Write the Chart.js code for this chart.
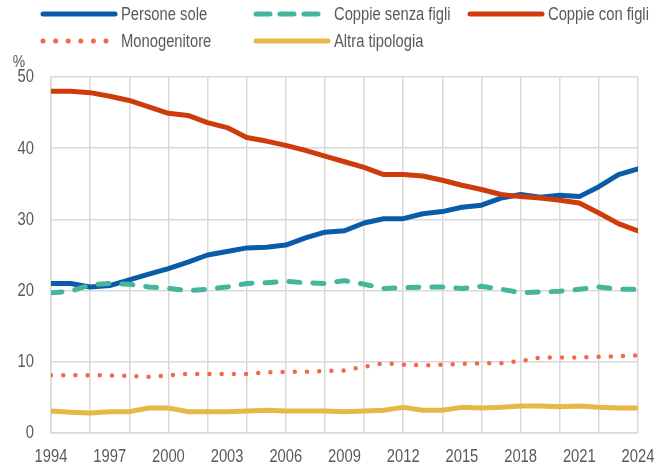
<!DOCTYPE html>
<html>
<head>
<meta charset="utf-8">
<script src="https://cdn.jsdelivr.net/npm/chart.js@4/dist/chart.umd.min.js"></script>
<style>
html,body{margin:0;padding:0;background:#fff;}
#wrap{width:669px;height:468px;}
</style>
</head>
<body>
<div id="wrap"><canvas id="c" width="669" height="468"></canvas></div>
<script>
const years = [1994,1995,1996,1997,1998,1999,2000,2001,2002,2003,2004,2005,2006,2007,2008,2009,2010,2011,2012,2013,2014,2015,2016,2017,2018,2019,2020,2021,2022,2023,2024];
const personeSole = [21.0,21.0,20.5,20.7,21.5,22.3,23.1,24.0,25.0,25.5,26.0,26.1,26.4,27.4,28.2,28.4,29.5,30.1,30.1,30.8,31.1,31.7,32.0,33.0,33.5,33.1,33.4,33.2,34.6,36.3,37.1];
const coppieSenzaFigli = [19.7,19.9,20.8,21.0,20.9,20.5,20.3,20.0,20.2,20.5,21.0,21.1,21.3,21.1,21.0,21.4,20.9,20.3,20.4,20.5,20.5,20.3,20.6,20.2,19.7,19.8,19.9,20.2,20.5,20.2,20.2];
const coppieConFigli = [48.0,48.0,47.8,47.3,46.7,45.8,44.9,44.6,43.6,42.9,41.5,41.0,40.4,39.7,38.9,38.1,37.3,36.3,36.3,36.1,35.5,34.8,34.2,33.5,33.2,33.0,32.7,32.3,30.9,29.4,28.4];
const monogenitore = [8.1,8.1,8.1,8.1,8.0,7.9,8.1,8.3,8.3,8.3,8.3,8.5,8.6,8.6,8.7,8.8,9.3,9.8,9.6,9.5,9.6,9.7,9.8,9.8,10.1,10.6,10.6,10.6,10.7,10.8,10.9];
const altraTipologia = [3.1,2.9,2.8,3.0,3.0,3.5,3.5,3.0,3.0,3.0,3.1,3.2,3.1,3.1,3.1,3.0,3.1,3.2,3.6,3.2,3.2,3.6,3.5,3.6,3.8,3.8,3.7,3.8,3.6,3.5,3.5];
const yTicks = [0,10,20,30,40,50];
const xLabelEvery = 3;
const xGridEvery = 2;
const unitLabel = '%';

const FONT = "'Liberation Sans', Arial, sans-serif";
const NARROW = 0.82;
const TXT = '#595959';
const GRID = '#d9d9d9';

const C_BLUE = '#0b5ca8';
const C_TEAL = '#45b59c';
const C_RED = '#cf3c0c';
const C_DOT = '#f0694a';
const C_YEL = '#e6b945';

const datasets = [
  {label:'Coppie con figli', data:coppieConFigli, borderColor:C_RED, borderWidth:5, legendDash:[], legendCol:2, legendRow:0},
  {label:'Coppie senza figli', data:coppieSenzaFigli, borderColor:C_TEAL, borderWidth:5, borderDash:[11,13], legendDash:[14,10], legendCol:1, legendRow:0},
  {label:'Persone sole', data:personeSole, borderColor:C_BLUE, borderWidth:5, legendDash:[], legendCol:0, legendRow:0},
  {label:'Monogenitore', data:monogenitore, borderColor:C_DOT, borderWidth:4.5, borderDash:[0,12.2], legendDash:[0,12.6], legendCol:0, legendRow:1},
  {label:'Altra tipologia', data:altraTipologia, borderColor:C_YEL, borderWidth:5, legendDash:[], legendCol:1, legendRow:1}
].map(d => Object.assign({
  backgroundColor:d.borderColor, pointRadius:0, pointHoverRadius:0, tension:0,
  borderCapStyle:'round', borderJoinStyle:'round', fill:false
}, d));

const legendCols = [43, 256, 470];
const legendRows = [14, 41];

function narrowText(ctx, text, x, y, align, size){
  ctx.save();
  ctx.translate(x, y);
  ctx.scale(NARROW, 1);
  ctx.font = size + 'px ' + FONT;
  ctx.fillStyle = TXT;
  ctx.textAlign = align;
  ctx.textBaseline = 'middle';
  ctx.fillText(text, 0, 0);
  ctx.restore();
}

const customText = {
  id:'customText',
  afterDraw(chart){
    const ctx = chart.ctx;
    ctx.save();
    chart.data.datasets.forEach(ds => {
      const x = legendCols[ds.legendCol];
      const y = legendRows[ds.legendRow];
      ctx.beginPath();
      ctx.strokeStyle = ds.borderColor;
      ctx.lineWidth = 5;
      ctx.lineCap = 'round';
      ctx.setLineDash(ds.legendDash);
      ctx.moveTo(x, y);
      ctx.lineTo(x + 72, y);
      ctx.stroke();
      ctx.setLineDash([]);
      narrowText(ctx, ds.label, x + 78, y + 1, 'left', 18);
    });
    narrowText(ctx, unitLabel, 19, 62, 'center', 17);
    const xs = chart.scales.x, ys = chart.scales.y;
    xs.ticks.forEach(t => {
      if ((t.value - years[0]) % xLabelEvery === 0) {
        narrowText(ctx, String(t.value), xs.getPixelForValue(t.value), xs.bottom - 11, 'center', 18);
      }
    });
    ys.ticks.forEach(t => {
      narrowText(ctx, String(t.value), ys.right - 17, ys.getPixelForValue(t.value) + 0.5, 'right', 18);
    });
    ctx.restore();
  }
};

new Chart(document.getElementById('c'), {
  type:'line',
  data:{labels:years, datasets},
  plugins:[customText],
  options:{
    responsive:false,
    animation:false,
    devicePixelRatio:1,
    layout:{padding:{top:77, right:31, left:0, bottom:0}},
    plugins:{legend:{display:false}, tooltip:{enabled:false}},
    scales:{
      x:{
        type:'linear', min:years[0], max:years[years.length-1],
        afterFit(s){ s.height = 35; },
        ticks:{display:false, stepSize:1, autoSkip:false, maxRotation:0},
        grid:{
          drawTicks:false, lineWidth:1.5,
          color(ctx){ const v = ctx.tick ? ctx.tick.value : 0; return ((v - years[0]) % xGridEvery === 0) ? GRID : 'rgba(0,0,0,0)'; }
        },
        border:{color:GRID, width:1.5}
      },
      y:{
        min:yTicks[0], max:yTicks[yTicks.length-1],
        afterFit(s){ s.width = 51; },
        afterBuildTicks(s){ s.ticks = yTicks.map(v => ({value:v})); },
        ticks:{display:false},
        grid:{drawTicks:false, lineWidth:1.5, color:GRID},
        border:{color:GRID, width:1.5}
      }
    }
  }
});
</script>
</body>
</html>
